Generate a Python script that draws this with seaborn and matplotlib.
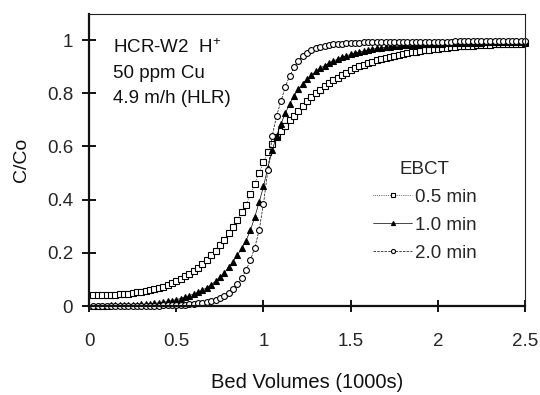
import pandas as pd
import seaborn as sns
import matplotlib.pyplot as plt

# bed volumes (1000s) at which C/Co was sampled
bed_volumes = [
    0.025, 0.050, 0.075, 0.100, 0.125, 0.150, 0.175, 0.200, 0.225, 0.250,
    0.275, 0.300, 0.325, 0.350, 0.375, 0.400, 0.425, 0.450, 0.475, 0.500,
    0.525, 0.550, 0.575, 0.600, 0.625, 0.650, 0.675, 0.700, 0.725, 0.750,
    0.775, 0.800, 0.825, 0.850, 0.875, 0.900, 0.925, 0.950, 0.975, 1.000,
    1.025, 1.050, 1.075, 1.100, 1.125, 1.150, 1.175, 1.200, 1.225, 1.250,
    1.275, 1.300, 1.325, 1.350, 1.375, 1.400, 1.425, 1.450, 1.475, 1.500,
    1.525, 1.550, 1.575, 1.600, 1.625, 1.650, 1.675, 1.700, 1.725, 1.750,
    1.775, 1.800, 1.825, 1.850, 1.875, 1.900, 1.925, 1.950, 1.975, 2.000,
    2.025, 2.050, 2.075, 2.100, 2.125, 2.150, 2.175, 2.200, 2.225, 2.250,
    2.275, 2.300, 2.325, 2.350, 2.375, 2.400, 2.425, 2.450, 2.475, 2.500,
]

# EBCT 0.5 min
cc_05 = [
    0.040, 0.040, 0.041, 0.041, 0.042, 0.043, 0.044, 0.045, 0.047, 0.049,
    0.051, 0.054, 0.057, 0.060, 0.064, 0.068, 0.073, 0.079, 0.086, 0.094,
    0.102, 0.111, 0.121, 0.132, 0.144, 0.158, 0.173, 0.190, 0.208, 0.228,
    0.250, 0.273, 0.298, 0.325, 0.352, 0.381, 0.420, 0.460, 0.500, 0.540,
    0.578, 0.610, 0.636, 0.658, 0.678, 0.700, 0.716, 0.734, 0.753, 0.772,
    0.786, 0.800, 0.813, 0.826, 0.838, 0.849, 0.859, 0.868, 0.877, 0.886,
    0.894, 0.901, 0.908, 0.914, 0.919, 0.924, 0.928, 0.932, 0.936, 0.940,
    0.944, 0.948, 0.951, 0.954, 0.957, 0.960, 0.962, 0.964, 0.966, 0.968,
    0.970, 0.972, 0.973, 0.975, 0.976, 0.977, 0.978, 0.979, 0.980, 0.981,
    0.982, 0.983, 0.984, 0.985, 0.985, 0.986, 0.986, 0.987, 0.987, 0.988,
]

# EBCT 1.0 min
cc_10 = [
    0.000, 0.001, 0.001, 0.001, 0.002, 0.002, 0.002, 0.003, 0.003, 0.004,
    0.005, 0.006, 0.007, 0.008, 0.010, 0.012, 0.014, 0.017, 0.020, 0.024,
    0.028, 0.033, 0.039, 0.045, 0.052, 0.060, 0.069, 0.080, 0.093, 0.108,
    0.125, 0.145, 0.167, 0.191, 0.217, 0.246, 0.285, 0.335, 0.390, 0.450,
    0.520, 0.585, 0.640, 0.685, 0.725, 0.760, 0.790, 0.815, 0.836, 0.854,
    0.869, 0.882, 0.894, 0.904, 0.913, 0.921, 0.928, 0.935, 0.941, 0.946,
    0.951, 0.955, 0.959, 0.963, 0.966, 0.969, 0.971, 0.973, 0.975, 0.977,
    0.979, 0.980, 0.981, 0.982, 0.983, 0.984, 0.985, 0.986, 0.986, 0.987,
    0.987, 0.988, 0.988, 0.989, 0.989, 0.989, 0.990, 0.990, 0.990, 0.990,
    0.991, 0.991, 0.991, 0.991, 0.991, 0.991, 0.992, 0.992, 0.992, 0.992,
]

# EBCT 2.0 min
cc_20 = [
    0.000, 0.000, 0.000, 0.000, 0.000, 0.000, 0.000, 0.000, 0.000, 0.000,
    0.000, 0.000, 0.000, 0.000, 0.001, 0.001, 0.002, 0.002, 0.003, 0.003,
    0.004, 0.005, 0.006, 0.008, 0.010, 0.012, 0.015, 0.019, 0.024, 0.030,
    0.038, 0.049, 0.063, 0.082, 0.106, 0.135, 0.172, 0.220, 0.285, 0.385,
    0.510, 0.640, 0.715, 0.770, 0.825, 0.865, 0.897, 0.922, 0.940, 0.953,
    0.962, 0.969, 0.974, 0.978, 0.981, 0.984, 0.986, 0.987, 0.988, 0.989,
    0.990, 0.990, 0.991, 0.991, 0.991, 0.992, 0.992, 0.992, 0.992, 0.993,
    0.993, 0.993, 0.993, 0.993, 0.993, 0.994, 0.994, 0.994, 0.994, 0.994,
    0.994, 0.994, 0.994, 0.995, 0.995, 0.995, 0.995, 0.995, 0.995, 0.995,
    0.995, 0.995, 0.995, 0.995, 0.995, 0.995, 0.995, 0.995, 0.995, 0.995,
]

ebct_labels = ["0.5 min", "1.0 min", "2.0 min"]
x_ticks = [0, 0.5, 1, 1.5, 2, 2.5]
y_ticks = [0, 0.2, 0.4, 0.6, 0.8, 1]

df = pd.DataFrame({
    "bv": bed_volumes * 3,
    "cc": cc_05 + cc_10 + cc_20,
    "EBCT": [ebct_labels[0]] * len(cc_05) + [ebct_labels[1]] * len(cc_10) + [ebct_labels[2]] * len(cc_20),
})

sns.set_style("ticks")
plt.rcParams["font.family"] = ["Liberation Sans", "DejaVu Sans"]
plt.rcParams["mathtext.fontset"] = "custom"
plt.rcParams["mathtext.rm"] = "Liberation Sans"
plt.rcParams["mathtext.default"] = "regular"

fig = plt.figure(figsize=(5.4, 3.95), dpi=100)
ax = fig.add_axes([0.165, 0.2253, 0.8074, 0.7405])

styles = {
    "0.5 min": dict(marker="s", mfc="white", ls=":"),
    "1.0 min": dict(marker="^", mfc="black", ls="-"),
    "2.0 min": dict(marker="o", mfc="white", ls="--"),
}
for lab in ebct_labels:
    st = styles[lab]
    sns.lineplot(data=df[df["EBCT"] == lab], x="bv", y="cc", ax=ax,
                 color="black", linewidth=0.5, linestyle=st["ls"],
                 marker=st["marker"], markersize=4.2, markerfacecolor=st["mfc"],
                 markeredgecolor="black", markeredgewidth=0.8,
                 label=lab, clip_on=False)

ax.set_xlim(0, 2.5)
ax.set_ylim(0, 1.1)
ax.set_xticks(x_ticks)
ax.set_yticks(y_ticks)
ax.set_xticklabels(["0", "0.5", "1", "1.5", "2", "2.5"])
ax.set_yticklabels(["0", "0.2", "0.4", "0.6", "0.8", "1"])

ax.tick_params(axis="x", direction="inout", length=8.6, width=1.4, pad=15, labelsize=13.5, color="#111111")
ax.tick_params(axis="y", direction="inout", length=10, width=1.4, pad=6.5, labelsize=13.5, color="#111111")
for side in ["left", "bottom"]:
    ax.spines[side].set_linewidth(1.6)
    ax.spines[side].set_color("#111111")
for side in ["top", "right"]:
    ax.spines[side].set_linewidth(0.8)
    ax.spines[side].set_color("#222222")

ax.set_xlabel("Bed Volumes (1000s)", fontsize=14.5, labelpad=17, color="#111111")
ax.set_ylabel("C/Co", fontsize=14, labelpad=12, color="#111111")

ax.text(0.055, 0.865, "HCR-W2  H$^{+}$", transform=ax.transAxes, fontsize=13.5, va="baseline", color="#111111")
ax.text(0.055, 0.78, "50 ppm Cu", transform=ax.transAxes, fontsize=13.5, va="baseline", color="#111111")
ax.text(0.055, 0.695, "4.9 m/h (HLR)", transform=ax.transAxes, fontsize=13.5, va="baseline", color="#111111")

leg = ax.legend(title="EBCT", loc="upper left", bbox_to_anchor=(0.651, 0.496),
                frameon=False, fontsize=13.5, title_fontsize=13.5, numpoints=1,
                handlelength=2.1, handletextpad=0.15, labelspacing=0.58,
                borderpad=0, borderaxespad=0, markerscale=0.7)

fig.savefig("out.png", dpi=100)
